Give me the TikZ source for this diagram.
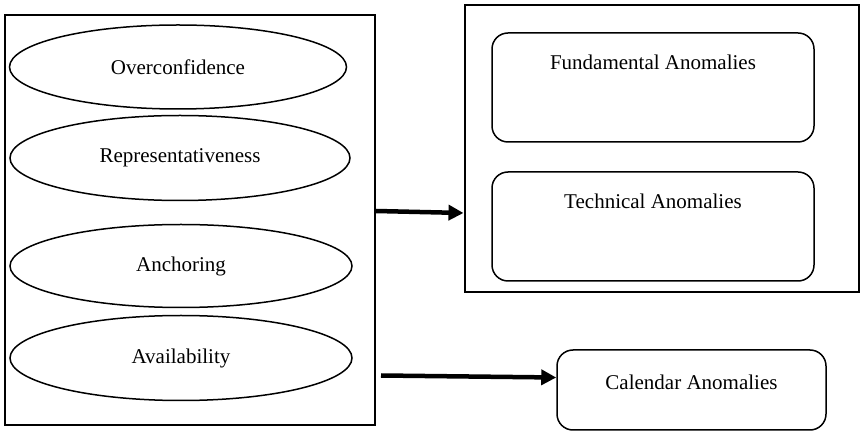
\documentclass[tikz,border=0pt]{standalone}
\usepackage{fontspec}
\setmainfont{Liberation Serif}
\usetikzlibrary{shapes.geometric,arrows.meta}
\begin{document}
\begin{tikzpicture}[x=1pt,y=-1pt,
  lbl/.style={font=\fontsize{21}{25}\selectfont},
  oval/.style={draw,ellipse,line width=1.5pt,inner sep=0pt},
  rbox/.style={draw,rounded corners=16pt,line width=1.5pt},
  frame/.style={draw,line width=2pt},
  bigarrow/.style={line width=4.5pt,-{Triangle[length=15pt,width=15pt]}}]
\useasboundingbox (0,0) rectangle (860,435);
% left frame
\node[frame,minimum width=370pt,minimum height=410pt,inner sep=0pt] (left) at (190,220) {};
% ellipses
\node[oval,minimum width=337pt,minimum height=84pt] (e1) at (178,67) {};
\node[lbl] (t1) at (178,67) {Overconfidence};
\node[oval,minimum width=340pt,minimum height=85pt] (e2) at (180,158) {};
\node[lbl] (t2) at (180,158) {Representativeness};
\node[oval,minimum width=342pt,minimum height=83pt] (e3) at (181,266) {};
\node[lbl] (t3) at (181,266) {Anchoring};
\node[oval,minimum width=342pt,minimum height=85pt] (e4) at (181,358) {};
\node[lbl] (t4) at (181,358) {Availability};
% right frame
\node[frame,minimum width=394pt,minimum height=287pt,inner sep=0pt] (right) at (661.5,148.5) {};
\node[rbox,minimum width=322pt,minimum height=109pt,inner sep=0pt] (fa) at (653,87.5) {};
\node[lbl] (tfa) at (653,62) {Fundamental Anomalies};
\node[rbox,minimum width=322pt,minimum height=109pt,inner sep=0pt] (ta) at (653,226.5) {};
\node[lbl] (tta) at (653,201) {Technical Anomalies};
% calendar
\node[rbox,minimum width=269pt,minimum height=80pt,inner sep=0pt] (ca) at (691.5,390) {};
\node[lbl] (tca) at (691.5,382) {Calendar Anomalies};
% arrows
\coordinate (s1) at (376,211);
\coordinate (s2) at (381,375.5);
\draw[bigarrow] (s1) -- (right.west |- 0,213);
\draw[bigarrow] (s2) -- (ca.west |- 0,377.5);
\end{tikzpicture}
\end{document}
